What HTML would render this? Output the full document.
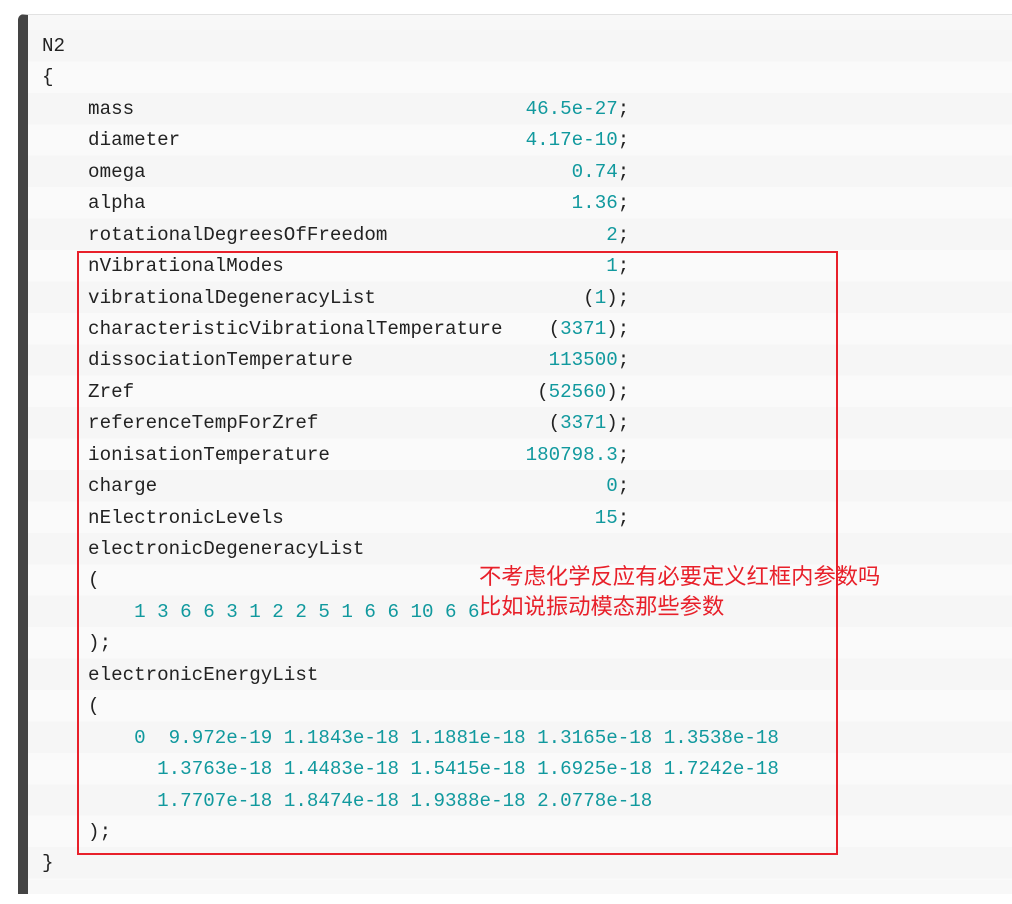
<!DOCTYPE html>
<html><head><meta charset="utf-8"><style>
body{margin:0;width:1012px;height:904px;background:#fff;position:relative;overflow:hidden}
.box{position:absolute;left:18px;top:14px;width:1000px;height:880px;background:#f8f8f8;border-top:1px solid #e2e2e2;border-left:10px solid #444;border-top-left-radius:6px;box-sizing:border-box}
.rows{position:absolute;left:28px;top:30px;width:990px;height:850px;background:repeating-linear-gradient(#f6f6f6 0,#f6f6f6 31.43px,#fafafa 31.43px,#fafafa 62.86px)}
pre{position:absolute;left:42px;top:31px;margin:0;font-family:"Liberation Mono",monospace;font-size:19.2px;line-height:31.43px;color:#222}
.v{color:#11999e}
.red{position:absolute;left:77px;top:251px;width:761px;height:604px;border:2px solid #e8202a;box-sizing:border-box}
.note{position:absolute;left:479px;top:562px;font-family:"Liberation Sans","Noto Sans CJK SC",sans-serif;font-size:22.3px;line-height:30px;color:#e8202a;white-space:nowrap}
</style></head><body>
<div class="box"></div><div class="rows"></div>
<pre>N2
{
    mass                                  <span class="v">46.5e-27</span>;
    diameter                              <span class="v">4.17e-10</span>;
    omega                                     <span class="v">0.74</span>;
    alpha                                     <span class="v">1.36</span>;
    rotationalDegreesOfFreedom                   <span class="v">2</span>;
    nVibrationalModes                            <span class="v">1</span>;
    vibrationalDegeneracyList                  (<span class="v">1</span>);
    characteristicVibrationalTemperature    (<span class="v">3371</span>);
    dissociationTemperature                 <span class="v">113500</span>;
    Zref                                   (<span class="v">52560</span>);
    referenceTempForZref                    (<span class="v">3371</span>);
    ionisationTemperature                 <span class="v">180798.3</span>;
    charge                                       <span class="v">0</span>;
    nElectronicLevels                           <span class="v">15</span>;
    electronicDegeneracyList
    (
        <span class="v">1 3 6 6 3 1 2 2 5 1 6 6 10 6 6</span>
    );
    electronicEnergyList
    (
        <span class="v">0  9.972e-19 1.1843e-18 1.1881e-18 1.3165e-18 1.3538e-18</span>
          <span class="v">1.3763e-18 1.4483e-18 1.5415e-18 1.6925e-18 1.7242e-18</span>
          <span class="v">1.7707e-18 1.8474e-18 1.9388e-18 2.0778e-18</span>
    );
}</pre>
<div class="red"></div>
<div class="note">不考虑化学反应有必要定义红框内参数吗<br>比如说振动模态那些参数</div>
</body></html>
